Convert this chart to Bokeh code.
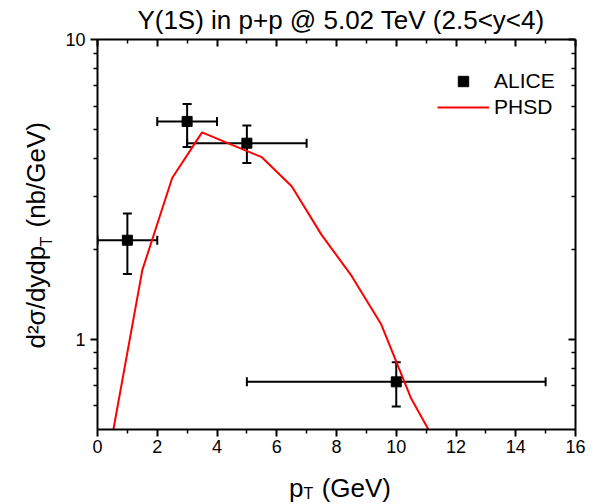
import math
from bokeh.plotting import figure
from bokeh.models import (Whisker, ColumnDataSource, FixedTicker, LinearAxis, LogAxis,
                          Range1d, Label, Legend, LegendItem, CustomJSTickFormatter, TeeHead)
from bokeh.embed import file_html
from bokeh.resources import INLINE

# ---------------- data ----------------
pt = [1, 3, 5, 10]
pt_lo = [0, 2, 3, 5]
pt_hi = [2, 4, 7, 15]
alice = [2.14, 5.33, 4.51, 0.721]
alice_hi = [2.63, 6.09, 5.17, 0.838]
alice_lo = [1.65, 4.38, 3.87, 0.597]

phsd_pt = [0.5, 1.5, 2.5, 3.5, 4.5, 5.5, 6.5, 7.5, 8.5, 9.5, 10.5, 11.5]
phsd = [0.48, 1.70, 3.45, 4.90, 4.45, 4.05, 3.24, 2.23, 1.63, 1.12, 0.634, 0.42]

x_ticks = [0, 2, 4, 6, 8, 10, 12, 14, 16]
x_minor = [1, 3, 5, 7, 9, 11, 13, 15]
y_ticks = [1, 10]
y_minor = [0.6, 0.7, 0.8, 0.9, 2, 3, 4, 5, 6, 7, 8, 9]

title_text = "Υ(1S) in p+p @ 5.02 TeV (2.5<y<4)"
GAP = "\u2002\u2009"  # room for the subscript T
x_label_main = "p" + GAP + "(GeV)"
y_label_main = "d²σ/dydp" + GAP + "(nb/GeV)"
sub_text = "T"
FONT = "Liberation Sans"

# ---------------- layout helpers (pixel -> data) ----------------
W, H = 600, 503
FL, FT, FW, FH = 97, 39, 478, 390
X0, X1 = 0, 16
Y0, Y1 = 0.5, 10


def dx(px):
    return X0 + (px - FL) / FW * (X1 - X0)


def dy(py):
    l1, l0 = math.log10(Y1), math.log10(Y0)
    return 10 ** (l1 - (py - FT) / FH * (l1 - l0))


p = figure(width=W, height=H, x_range=Range1d(X0, X1), y_range=Range1d(Y0, Y1),
           y_axis_type="log", output_backend="svg", toolbar_location=None,
           min_border_left=FL, min_border_right=W - FL - FW, min_border_top=FT,
           min_border_bottom=H - FT - FH)
p.outline_line_color = None
p.xgrid.visible = False
p.ygrid.visible = False
p.background_fill_color = "white"
p.border_fill_color = "white"


def style_axis(ax, labels=True, inward=False):
    ax.axis_line_width = 2
    ax.axis_line_color = "black"
    ax.major_tick_line_width = 2
    ax.minor_tick_line_width = 1.5
    ax.major_tick_line_color = "black"
    ax.minor_tick_line_color = "black"
    if inward:
        ax.major_tick_in, ax.major_tick_out = 7, 0
        ax.minor_tick_in, ax.minor_tick_out = 4, 0
    else:
        ax.major_tick_in, ax.major_tick_out = 0, 7
        ax.minor_tick_in, ax.minor_tick_out = 0, 4
    ax.major_label_text_font = FONT
    ax.major_label_text_font_size = "18px"
    ax.major_label_text_color = "black"
    if labels:
        ax.formatter = CustomJSTickFormatter(code="return tick.toString()")
    else:
        ax.formatter = CustomJSTickFormatter(code="return ''")
        ax.major_label_text_font_size = "0px"
        ax.major_label_standoff = 0


xb = p.xaxis[0]
xb.ticker = FixedTicker(ticks=x_ticks, minor_ticks=x_minor)
style_axis(xb)
xb.major_label_standoff = 3

yl = p.yaxis[0]
yl.ticker = FixedTicker(ticks=y_ticks, minor_ticks=y_minor)
style_axis(yl)
yl.major_label_standoff = 5

xt = LinearAxis(ticker=FixedTicker(ticks=x_ticks, minor_ticks=x_minor))
style_axis(xt, labels=False, inward=True)
p.add_layout(xt, "above")

yr = LogAxis(ticker=FixedTicker(ticks=y_ticks, minor_ticks=y_minor))
style_axis(yr, labels=False, inward=True)
p.add_layout(yr, "right")

# ---------------- data glyphs ----------------
src = ColumnDataSource(dict(pt=pt, pt_lo=pt_lo, pt_hi=pt_hi, y=alice, y_lo=alice_lo, y_hi=alice_hi))

ln = p.line(phsd_pt, phsd, line_color="red", line_width=2)

wy = Whisker(source=src, base="pt", lower="y_lo", upper="y_hi", dimension="height",
             line_width=2, line_color="black",
             upper_head=TeeHead(size=9, line_width=2), lower_head=TeeHead(size=9, line_width=2))
wx = Whisker(source=src, base="y", lower="pt_lo", upper="pt_hi", dimension="width",
             line_width=2, line_color="black",
             upper_head=TeeHead(size=9, line_width=2), lower_head=TeeHead(size=9, line_width=2))
p.add_layout(wy)
p.add_layout(wx)

sq = p.scatter("pt", "y", source=src, marker="square", size=10, color="black")

legend = Legend(items=[LegendItem(label="ALICE", renderers=[sq]),
                       LegendItem(label="PHSD", renderers=[ln])],
                location=(340, 309), glyph_width=52, glyph_height=26, label_height=26,
                spacing=0, padding=0, margin=0, label_standoff=5,
                border_line_color=None, background_fill_alpha=0,
                label_text_font=FONT, label_text_font_size="21px", label_text_color="black")
p.add_layout(legend)

# ---------------- texts (labels held in side panels so they are not clipped) ----------------
def add_label(side, px, py, text, size, angle=0.0, align="left"):
    p.add_layout(Label(x=dx(px), y=dy(py), text=text, text_font=FONT,
                       text_font_size=f"{size}px", text_color="black",
                       text_align=align, text_baseline="alphabetic", angle=angle), side)


A = math.pi / 2
add_label("above", 340.5, 19, title_text, 26, align="center")
add_label("below", 288.5, 487, x_label_main, 26)
add_label("right", 303, 493, sub_text, 16)
add_label("left", 35, 348, y_label_main, 26, angle=A)
add_label("left", 46, 246, sub_text, 16, angle=A)

open("out.html", "w").write(file_html(p, INLINE))
